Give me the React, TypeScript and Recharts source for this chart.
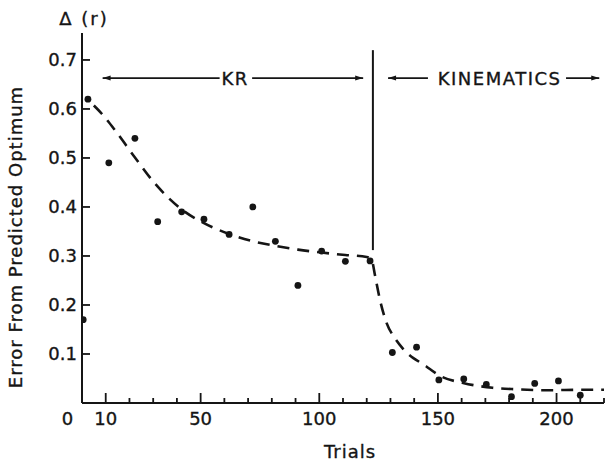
import React from 'react';
import {
  ComposedChart,
  Line,
  Scatter,
  XAxis,
  YAxis,
  ReferenceLine,
  ReferenceDot,
  Label,
} from 'recharts';

// observed trials (dots)
const trialX = [0.5, 2.5, 11.3, 22.3, 31.9, 42, 51.4, 62, 72, 81.5, 91, 101, 111, 121.4, 130.8, 141, 150.4, 160.9, 170.4, 181, 190.8, 200.8, 210];
const errorY = [0.17, 0.62, 0.49, 0.54, 0.37, 0.39, 0.375, 0.344, 0.4, 0.33, 0.24, 0.31, 0.289, 0.29, 0.103, 0.114, 0.047, 0.049, 0.038, 0.013, 0.04, 0.045, 0.016];

// fitted dashed curve
const curveX = [5, 8, 14, 22, 30, 37, 42, 51, 62, 72, 81, 91, 101, 111, 120, 122.2, 123.5, 125.6, 128.4, 131.9, 135.4, 145, 151, 160.6, 173, 183, 196, 210, 220];
const curveY = [0.607, 0.592, 0.556, 0.503, 0.452, 0.416, 0.395, 0.368, 0.345, 0.33, 0.321, 0.313, 0.307, 0.302, 0.298, 0.29, 0.26, 0.21, 0.163, 0.132, 0.11, 0.075, 0.055, 0.041, 0.031, 0.028, 0.026, 0.027, 0.027];

const xTicks = [0, 10, 20, 30, 40, 50, 60, 70, 80, 90, 100, 110, 120, 130, 140, 150, 160, 170, 180, 190, 200, 210, 220];
const xLabelTicks = [0, 10, 50, 100, 150, 200];
const xMajorTicks = [10, 50, 100, 150, 200];
const yTicks = [0.1, 0.2, 0.3, 0.4, 0.5, 0.6, 0.7];

const phaseSplitX = 122.6;
const phaseLineY = [0.312, 0.72];
const arrowY = 0.663;
const krArrowLeft = [8.7, 58];
const krArrowRight = [71.7, 118.5];
const kinArrowLeft = [129, 145.8];
const kinArrowRight = [204, 218];
const krLabelX = 64.5;
const kinLabelX = 176;

const points = trialX.map((x, i) => ({ x, y: errorY[i] }));
const curve = curveX.map((x, i) => ({ x, y: curveY[i] }));

const FONT = "'DejaVu Sans', sans-serif";
const INK = '#151515';
const TEXT_STROKE = { stroke: INK, strokeWidth: 0.35 };

const XTick = (props: any) => {
  const { x, y, payload } = props;
  const v = payload.value;
  const major = xMajorTicks.includes(v);
  const len = v === 0 ? 0 : major ? 10 : 5;
  const showLabel = xLabelTicks.includes(v);
  return (
    <g>
      {len > 0 && <line x1={x} y1={y} x2={x} y2={y - len} stroke={INK} strokeWidth={1.8} />}
      {showLabel && (
        <text x={v === 0 ? x - 14.5 : x} y={y + 22} textAnchor="middle" fontFamily={FONT} fontSize={18} fill={INK} {...TEXT_STROKE}>
          {String(v)}
        </text>
      )}
    </g>
  );
};

const YTick = (props: any) => {
  const { x, y, payload } = props;
  return (
    <g>
      <line x1={x} y1={y} x2={x + 8} y2={y} stroke={INK} strokeWidth={1.8} />
      <text x={x - 5} y={y + 6.5} textAnchor="end" fontFamily={FONT} fontSize={18} fill={INK} {...TEXT_STROKE}>
        {payload.value.toFixed(1)}
      </text>
    </g>
  );
};

const arrowShape = (dir: 'left' | 'right') => (props: any) => {
  const { x1, y1, x2, y2 } = props;
  const lx = Math.min(x1, x2);
  const rx = Math.max(x1, x2);
  const tip = dir === 'left' ? lx : rx;
  const back = dir === 'left' ? tip + 8 : tip - 8;
  return (
    <g>
      <line x1={lx} y1={y1} x2={rx} y2={y2} stroke={INK} strokeWidth={1.8} />
      <polygon points={`${tip},${y1} ${back},${y1 - 2.5} ${back},${y1 + 2.5}`} fill={INK} />
    </g>
  );
};

const textShape = (txt: string) => (props: any) => (
  <text x={props.cx} y={props.cy + 7} textAnchor="middle" fontFamily={FONT} fontSize={18} letterSpacing={1.5} fill={INK} {...TEXT_STROKE}>
    {txt}
  </text>
);

const YTitle = (props: any) => {
  const vb = props.viewBox;
  const axisX = vb.x + vb.width;
  const cy = vb.y + vb.height / 2 + 19;
  return (
    <g>
      <text x={axisX + 2} y={vb.y - 8} textAnchor="middle" fontFamily={FONT} fontSize={18} letterSpacing={2} fill={INK} {...TEXT_STROKE}>
        Δ (r)
      </text>
      <text
        x={axisX - 60}
        y={cy}
        transform={`rotate(-90 ${axisX - 60} ${cy})`}
        textAnchor="middle"
        fontFamily={FONT}
        fontSize={18}
        letterSpacing={1}
        fill={INK}
        {...TEXT_STROKE}
      >
        Error From Predicted Optimum
      </text>
    </g>
  );
};

const XTitle = (props: any) => {
  const vb = props.viewBox;
  return (
    <text x={vb.x + 268} y={vb.y + 55} textAnchor="middle" fontFamily={FONT} fontSize={18} letterSpacing={1} fill={INK} {...TEXT_STROKE}>
      Trials
    </text>
  );
};

export default function App() {
  return (
    <div style={{ position: 'absolute', left: 0, top: 0, width: 606, height: 463, background: '#fff' }}>
      <ComposedChart width={606} height={463} margin={{ top: 33, right: 2, bottom: 30, left: 22 }}>
        <XAxis
          type="number"
          dataKey="x"
          domain={[0, 220]}
          ticks={xTicks}
          interval={0}
          tickSize={0}
          tickMargin={0}
          tickLine={false}
          tick={<XTick />}
          axisLine={{ stroke: INK, strokeWidth: 2 }}
          height={30}
          allowDataOverflow
        >
          <Label content={<XTitle />} />
        </XAxis>
        <YAxis
          type="number"
          dataKey="y"
          domain={[0, 0.755]}
          ticks={yTicks}
          interval={0}
          tickSize={0}
          tickMargin={0}
          tickLine={false}
          tick={<YTick />}
          axisLine={{ stroke: INK, strokeWidth: 2 }}
          width={60}
          allowDataOverflow
        >
          <Label content={<YTitle />} />
        </YAxis>
        <ReferenceLine
          segment={[{ x: phaseSplitX, y: phaseLineY[0] }, { x: phaseSplitX, y: phaseLineY[1] }]}
          stroke={INK}
          strokeWidth={2}
        />
        <ReferenceLine segment={[{ x: krArrowLeft[0], y: arrowY }, { x: krArrowLeft[1], y: arrowY }]} shape={arrowShape('left')} />
        <ReferenceLine segment={[{ x: krArrowRight[0], y: arrowY }, { x: krArrowRight[1], y: arrowY }]} shape={arrowShape('right')} />
        <ReferenceLine segment={[{ x: kinArrowLeft[0], y: arrowY }, { x: kinArrowLeft[1], y: arrowY }]} shape={arrowShape('left')} />
        <ReferenceLine segment={[{ x: kinArrowRight[0], y: arrowY }, { x: kinArrowRight[1], y: arrowY }]} shape={arrowShape('right')} />
        <ReferenceDot x={krLabelX} y={arrowY} shape={textShape('KR')} />
        <ReferenceDot x={kinLabelX} y={arrowY} shape={textShape('KINEMATICS')} />
        <Line
          data={curve}
          dataKey="y"
          type="monotone"
          stroke={INK}
          strokeWidth={2.6}
          strokeDasharray="12 8"
          dot={false}
          activeDot={false}
          isAnimationActive={false}
        />
        <Scatter
          data={points}
          dataKey="y"
          fill={INK}
          shape={(p: any) => <circle cx={p.cx} cy={p.cy} r={3.4} fill={INK} />}
          isAnimationActive={false}
        />
      </ComposedChart>
    </div>
  );
}
